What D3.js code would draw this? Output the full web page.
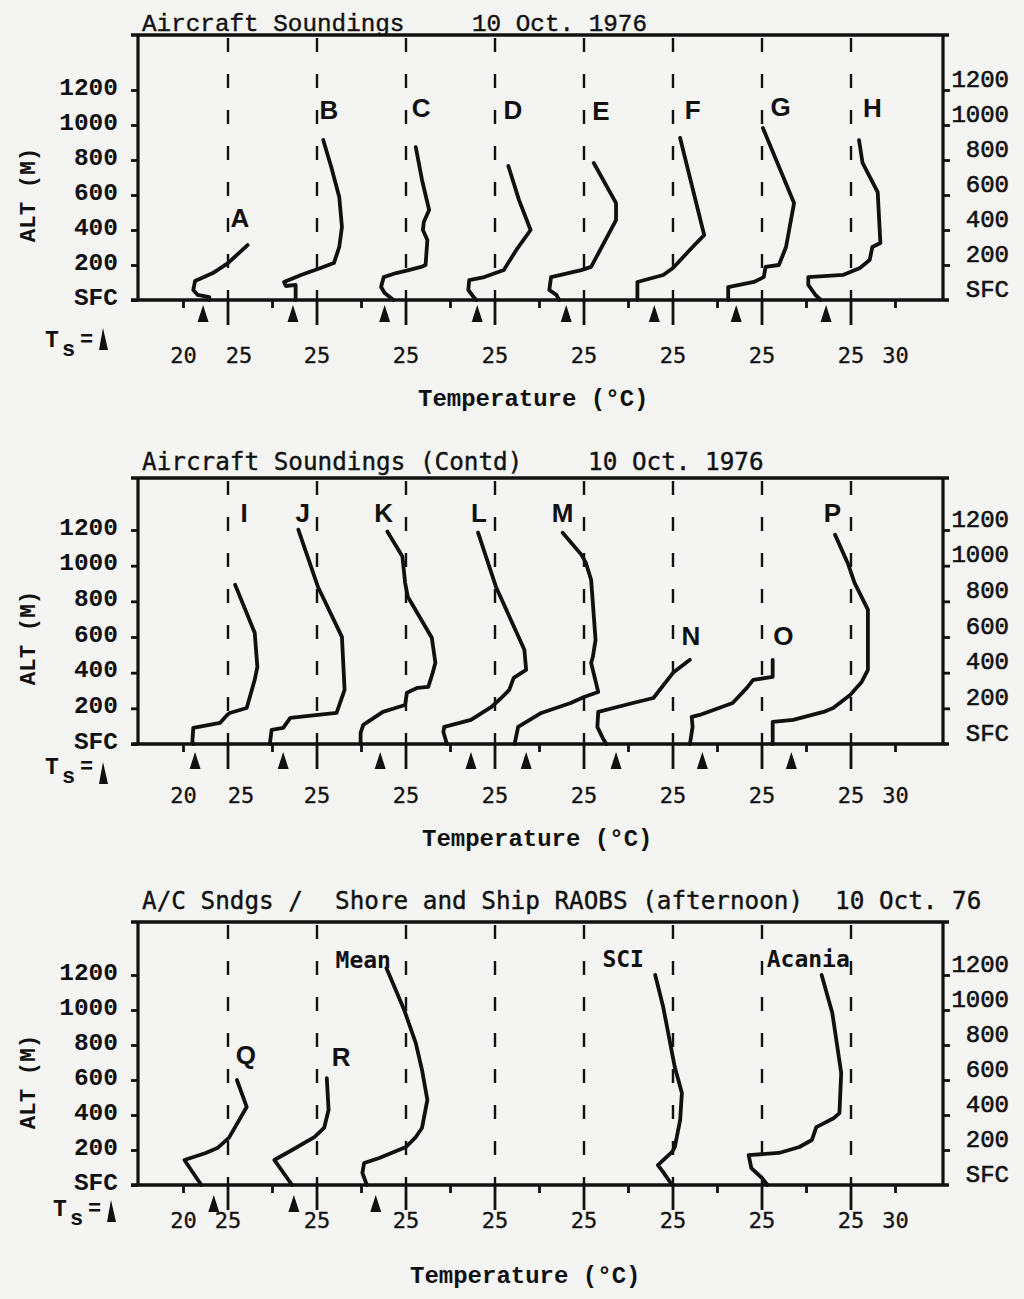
<!DOCTYPE html>
<html><head><meta charset="utf-8">
<script src="https://cdn.jsdelivr.net/npm/d3@7"></script>
<style>body{margin:0;background:#f4f4f2}</style>
</head><body><svg id="c" width="1024" height="1299"></svg>
<script>
// ---------- axis data ----------
const altTicks = [0, 200, 400, 600, 800, 1000, 1200];
const altLabels = ["SFC", "200", "400", "600", "800", "1000", "1200"];
const majorTicks = [25, 35, 45, 55, 65, 75, 85, 95];      // offset temperature of the dashed 25 °C lines
const minorTicks = [20, 30, 40, 50, 60, 70, 80, 90, 100];
const tempLabelValues = [20, 25, 35, 45, 55, 65, 75, 85, 95, 100];
const tempLabels = ["20", "25", "25", "25", "25", "25", "25", "25", "25", "30"];

// ---------- panel 1 : Aircraft soundings A-H ----------
const panel1Names = ["A", "B", "C", "D", "E", "F", "G", "H"];
const panel1Slots = [0, 1, 2, 3, 4, 5, 6, 7];
const panel1Ts = [22.2, 22.3, 22.6, 23.0, 23.0, 22.9, 22.1, 22.2];
const panel1LabelT = [26.35, 26.35, 26.7, 27.0, 26.9, 27.2, 27.1, 27.4];
const panel1LabelAlt = [417, 1034, 1046, 1034, 1029, 1034, 1051, 1046];
const soundA = [[22.9,0],[22.9,17],[21.6,29],[21.1,57],[21.3,109],[23.3,154],[25.0,211],[27.2,314]];
const soundB = [[22.6,0],[22.6,86],[21.5,80],[21.3,103],[23.2,143],[25.4,183],[26.9,211],[27.5,303],[27.8,417],[27.5,589],[26.6,760],[25.7,914]];
const soundC = [[23.6,0],[22.6,40],[22.2,74],[22.5,131],[23.9,154],[25.3,171],[26.7,189],[27.2,200],[27.4,343],[26.9,400],[27.0,446],[27.6,514],[26.8,686],[26.1,874]];
const soundD = [[22.9,0],[22.6,17],[22.0,57],[22.1,114],[23.8,131],[26.0,171],[26.2,189],[27.4,286],[29.0,400],[27.7,571],[26.5,766]];
const soundE = [[22.2,0],[21.9,29],[21.1,57],[21.3,131],[24.7,171],[25.8,189],[28.6,457],[28.6,554],[26.1,783]];
const soundF = [[21.0,0],[21.0,103],[23.9,143],[25.0,183],[27.2,303],[28.5,371],[25.8,926]];
const soundG = [[21.2,0],[21.2,74],[24.1,103],[25.2,131],[25.4,189],[26.9,200],[27.7,303],[28.6,554],[25.1,983]];
const soundH = [[21.6,0],[21.0,29],[20.2,86],[20.2,131],[24.1,143],[26.0,183],[27.1,229],[27.4,303],[28.3,326],[28.0,617],[26.3,783],[25.9,914]];

// ---------- panel 2 : Aircraft soundings I-P ----------
const panel2Names = ["I", "J", "K", "L", "M", "N", "O", "P"];
const panel2Slots = [0, 1, 2, 3, 4, 5, 6, 7];
const panel2Ts = [21.3, 21.2, 22.1, 22.3, 18.5, 18.6, 18.3, 18.3];
const panel2LabelT = [26.8, 23.4, 22.5, 23.2, 22.6, 27.0, 27.4, 22.9];
const panel2LabelAlt = [1247, 1247, 1247, 1247, 1247, 556, 556, 1247];
const soundI = [[21.1,0],[21.0,17],[21.1,90],[24.1,118],[24.9,163],[25.2,174],[27.1,202],[28.0,360],[28.3,433],[28.0,624],[25.8,893]];
const soundJ = [[19.7,0],[19.9,79],[21.2,90],[22.0,146],[25.1,163],[27.2,174],[28.1,303],[27.8,601],[25.1,882],[22.9,1202]];
const soundK = [[19.9,0],[19.9,62],[20.2,107],[22.4,180],[23.8,202],[24.9,219],[25.1,287],[26.3,315],[27.5,320],[28.0,399],[28.3,455],[27.9,596],[25.2,826],[24.9,904],[24.6,1051],[22.9,1191]];
const soundL = [[19.6,0],[19.2,67],[19.3,96],[22.3,135],[24.6,208],[25.7,258],[26.6,303],[27.1,371],[28.5,416],[28.3,528],[25.1,882],[23.1,1185]];
const soundM = [[17.2,0],[17.6,96],[20.2,174],[23.5,230],[25.0,264],[26.6,292],[25.8,455],[26.0,489],[26.3,584],[25.8,921],[25.2,1017],[24.7,1062],[22.6,1185]];
const soundN = [[17.5,0],[17.1,34],[16.5,96],[16.6,180],[20.5,230],[22.8,258],[25.0,399],[26.9,472]];
const soundO = [[16.9,0],[17.2,96],[17.1,152],[18.0,163],[21.7,230],[23.3,315],[24.0,360],[26.2,376],[26.2,472]];
const soundP = [[16.2,0],[16.2,124],[18.5,135],[21.9,180],[23.0,202],[24.9,275],[26.2,348],[26.9,416],[26.9,753],[25.4,904],[24.7,1006],[23.2,1174]];

// ---------- panel 3 : A/C soundings Q, R, Mean and shore / ship RAOBS ----------
const panel3Names = ["Q", "R", "Mean", "SCI", "Acania"];
const panel3Slots = [0, 1, 2, 5, 7];
const panel3Ts = [23.4, 22.4, 21.6, null, null];
const panel3LabelT = [27.0, 27.7, 20.2, 19.4, 20.2];
const panel3LabelAlt = [691, 680, 1240, 1246, 1246];
const soundQ = [[22.0,0],[20.1,143],[22.5,183],[23.8,211],[25.1,269],[27.1,446],[26.0,600]];
const soundR = [[22.2,0],[20.2,143],[22.2,200],[24.7,274],[25.8,326],[26.3,429],[26.1,611]];
const soundMean = [[20.6,0],[20.1,69],[20.3,126],[22.0,154],[25.0,217],[26.1,274],[26.8,326],[27.4,486],[26.8,657],[26.1,811],[24.8,1000],[22.8,1240]];
const soundSCI = [[24.9,0],[23.9,74],[23.3,114],[24.9,189],[25.2,217],[25.8,371],[26.0,526],[25.2,674],[23.9,1017],[23.0,1200]];
const soundAcania = [[15.6,0],[15.0,40],[13.8,97],[13.5,171],[16.9,183],[19.2,217],[20.6,257],[21.1,331],[23.1,383],[23.7,411],[23.9,640],[22.9,983],[21.7,1200]];

// ---------- drawing ----------
const INK = "#111111";
const SERIF_MONO = "'Liberation Mono','Courier New',monospace";
const SANS_MONO = "'DejaVu Sans Mono',monospace";
const SANS = "'Liberation Sans',Arial,sans-serif";
const FRAME_L = 138, FRAME_R = 943;

const svg = d3.select("#c");
svg.append("rect").attr("width", 1024).attr("height", 1299).attr("fill", "#f4f4f2");

const x = d3.scaleLinear().domain([15, 105]).range([139, 940]);

const panels = [
  { top: 35, bottom: 300, y1200: 90,
    names: panel1Names, slots: panel1Slots, series: [soundA, soundB, soundC, soundD, soundE, soundF, soundG, soundH],
    ts: panel1Ts, labelT: panel1LabelT, labelAlt: panel1LabelAlt,
    titles: [{t: "Aircraft Soundings", x: 142}, {t: "10 Oct. 1976", x: 472}], titleFont: SERIF_MONO, titleY: 31,
    tickLabelY: 63, tsX: 45, tsY: 47, triTop: 28, arrowTop: 5, tempX: 418, tempY: 106, firstDx: 11 },
  { top: 478, bottom: 744, y1200: 530,
    names: panel2Names, slots: panel2Slots, series: [soundI, soundJ, soundK, soundL, soundM, soundN, soundO, soundP],
    ts: panel2Ts, labelT: panel2LabelT, labelAlt: panel2LabelAlt,
    titles: [{t: "Aircraft Soundings (Contd)", x: 142}, {t: "10 Oct. 1976", x: 588}], titleFont: SANS_MONO, titleY: 470,
    tickLabelY: 59, tsX: 45, tsY: 30, triTop: 18, arrowTop: 8, tempX: 422, tempY: 102, firstDx: 13 },
  { top: 922, bottom: 1185, y1200: 975,
    names: panel3Names, slots: panel3Slots, series: [soundQ, soundR, soundMean, soundSCI, soundAcania],
    ts: panel3Ts, labelT: panel3LabelT, labelAlt: panel3LabelAlt,
    titles: [{t: "A/C Sndgs /", x: 142}, {t: "Shore and Ship RAOBS (afternoon)", x: 335}, {t: "10 Oct. 76", x: 835}], titleFont: SANS_MONO, titleY: 909,
    tickLabelY: 43, tsX: 53, tsY: 31, triTop: 15, arrowTop: 10, tempX: 410, tempY: 98, firstDx: 0 }
];

panels.forEach(p => {
  const g = svg.append("g");
  const y = d3.scaleLinear().domain([0, 1200]).range([p.bottom, p.y1200]);

  // dashed 25 °C reference lines
  majorTicks.forEach(v => {
    g.append("line").attr("x1", x(v)).attr("x2", x(v)).attr("y1", p.top + 3).attr("y2", p.bottom)
      .attr("stroke", INK).attr("stroke-width", 2.4).attr("stroke-dasharray", "14,22");
    g.append("line").attr("x1", x(v)).attr("x2", x(v)).attr("y1", p.bottom).attr("y2", p.bottom + 25)
      .attr("stroke", INK).attr("stroke-width", 2.8);
  });
  minorTicks.forEach(v => {
    g.append("line").attr("x1", x(v)).attr("x2", x(v)).attr("y1", p.bottom).attr("y2", p.bottom + 8)
      .attr("stroke", INK).attr("stroke-width", 2.8);
  });

  // frame
  g.append("line").attr("x1", FRAME_L - 7).attr("x2", FRAME_R + 6).attr("y1", p.top).attr("y2", p.top)
    .attr("stroke", INK).attr("stroke-width", 3.4);
  g.append("line").attr("x1", FRAME_L - 7).attr("x2", FRAME_R + 6).attr("y1", p.bottom).attr("y2", p.bottom)
    .attr("stroke", INK).attr("stroke-width", 3.6);
  g.append("line").attr("x1", FRAME_L).attr("x2", FRAME_L).attr("y1", p.top).attr("y2", p.bottom)
    .attr("stroke", INK).attr("stroke-width", 3.2);
  g.append("line").attr("x1", FRAME_R).attr("x2", FRAME_R).attr("y1", p.top).attr("y2", p.bottom)
    .attr("stroke", INK).attr("stroke-width", 3.2);

  // left altitude axis
  const la = g.append("g").attr("transform", `translate(${FRAME_L},0)`)
    .call(d3.axisLeft(y).tickValues(altTicks).tickFormat((d, i) => altLabels[i]).tickSize(7).tickPadding(13));
  la.select(".domain").remove();
  la.selectAll(".tick line").attr("stroke", INK).attr("stroke-width", 2.8);
  la.selectAll(".tick text").attr("dy", null).attr("y", 4)
    .attr("font-family", SERIF_MONO).attr("font-weight", "bold").attr("font-size", 24.5).attr("fill", INK);

  // right altitude axis
  const ra = g.append("g").attr("transform", `translate(${FRAME_R},0)`)
    .call(d3.axisRight(y).tickValues(altTicks).tickFormat((d, i) => altLabels[i]).tickSize(7));
  ra.select(".domain").remove();
  ra.selectAll(".tick line").attr("stroke", INK).attr("stroke-width", 2.8).attr("opacity", (d) => d === 0 ? 0 : 1);
  ra.selectAll(".tick text").attr("dy", null).attr("y", -4).attr("x", 66).attr("text-anchor", "end")
    .attr("font-family", SERIF_MONO).attr("font-size", 24).attr("fill", INK)
    .attr("stroke", INK).attr("stroke-width", 0.6);

  // bottom temperature labels
  tempLabelValues.forEach((v, i) => {
    g.append("text").attr("x", x(v) + (i === 1 ? p.firstDx : 0)).attr("y", p.bottom + p.tickLabelY)
      .attr("text-anchor", "middle").attr("font-family", SANS_MONO).attr("font-size", 22).attr("fill", INK)
      .attr("stroke", INK).attr("stroke-width", 0.3)
      .text(tempLabels[i]);
  });

  // titles
  p.titles.forEach(tt => {
    g.append("text").attr("x", tt.x).attr("y", p.titleY).attr("font-family", p.titleFont)
      .attr("font-size", 24.3).attr("fill", INK).attr("stroke", INK).attr("stroke-width", 0.4).text(tt.t);
  });

  // axis titles
  g.append("text").attr("x", p.tempX).attr("y", p.bottom + p.tempY).attr("font-family", SERIF_MONO)
    .attr("font-weight", "bold").attr("font-size", 24).attr("fill", INK).text("Temperature (°C)");
  g.append("text").attr("transform", `translate(35,${p.top + 160}) rotate(-90)`).attr("text-anchor", "middle")
    .attr("font-family", SERIF_MONO).attr("font-weight", "bold").attr("font-size", 22.5).attr("fill", INK).text("ALT (M)");

  // Ts = ▲ legend
  const tsx = p.tsX;
  g.append("text").attr("x", tsx).attr("y", p.bottom + p.tsY).attr("font-family", SERIF_MONO)
    .attr("font-weight", "bold").attr("font-size", 23).attr("fill", INK).text("T");
  g.append("text").attr("x", tsx + 17).attr("y", p.bottom + p.tsY + 9).attr("font-family", SERIF_MONO)
    .attr("font-weight", "bold").attr("font-size", 22).attr("fill", INK).text("s");
  g.append("text").attr("x", tsx + 35).attr("y", p.bottom + p.tsY - 1).attr("font-family", SERIF_MONO)
    .attr("font-weight", "bold").attr("font-size", 22).attr("fill", INK).text("=");
  const tx = tsx + 58, tt0 = p.bottom + p.triTop;
  g.append("path").attr("d", `M${tx},${tt0} L${tx + 5},${tt0 + 22} L${tx - 4},${tt0 + 22} Z`).attr("fill", INK);

  // soundings
  const line = d3.line().curve(d3.curveLinear);
  p.series.forEach((s, i) => {
    const k = p.slots[i];
    g.append("path").attr("d", line(s.map(d => [x(d[0] + 10 * k), y(d[1])])))
      .attr("fill", "none").attr("stroke", INK).attr("stroke-width", 3.8)
      .attr("stroke-linejoin", "round").attr("stroke-linecap", "round");
    // surface temperature arrow
    if (p.ts[i] != null) {
      const ax = x(p.ts[i] + 10 * k), at = p.bottom + p.arrowTop;
      g.append("path").attr("d", `M${ax},${at} L${ax + 5.5},${at + 17} L${ax - 5.5},${at + 17} Z`).attr("fill", INK);
    }
    // label
    const nm = p.names[i];
    const isWord = nm.length > 1;
    g.append("text").attr("x", x(p.labelT[i] + 10 * k)).attr("y", y(p.labelAlt[i]))
      .attr("text-anchor", "middle")
      .attr("font-family", isWord ? SANS_MONO : SANS)
      .attr("font-weight", "bold")
      .attr("font-size", isWord ? 23 : 26)
      .attr("fill", INK).text(nm);
  });
});
</script>
</body></html>
